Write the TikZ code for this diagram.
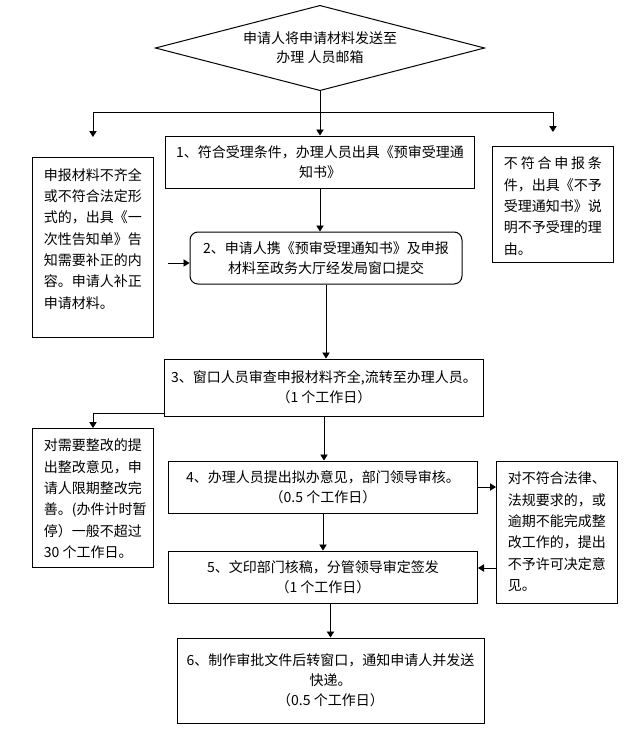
\documentclass[tikz,border=0pt]{standalone}
\usepackage{fontspec}
\setmainfont{Noto Sans CJK SC}
\usepackage{tikz}
\usetikzlibrary{shapes, arrows.meta, positioning, calc}
\newcommand{\sidetext}[2]{\parbox[c][#1][t]{7em}{#2}}

\begin{document}
\begin{tikzpicture}[x=0.75pt, y=-0.75pt,
  flow/.style={draw, line width=0.75pt, align=center, inner sep=2pt, minimum width=231.75pt, minimum height=39pt, font=\fontsize{10.5pt}{15pt}\selectfont},
  side/.style={draw, line width=0.75pt, anchor=north west, inner xsep=8.6pt, inner ysep=8pt, font=\fontsize{10.5pt}{16pt}\selectfont},
  arr/.style={-{Triangle[length=4.5pt, width=5.5pt]}, line width=0.6pt}]
  \useasboundingbox (0,0) rectangle (642,743);

  % Application
  \node[diamond, draw, line width=0.75pt, aspect=3.8, inner sep=0pt, minimum width=247pt, minimum height=64pt, align=center, font=\fontsize{10.5pt}{14pt}\selectfont] (appl) at (320,48) {申请人将申请材料发送至\\办理 人员邮箱};

  % Acceptance
  \node[flow] (accept) at (320,162) {1、符合受理条件，办理人员出具《预审受理通\\知书》};
  \node[flow, rounded corners=6pt, minimum width=204pt] (submit) at (326,258) {2、申请人携《预审受理通知书》及申报\\材料至政务大厅经发局窗口提交};
  \node[side] (lack) at (32,157) {\sidetext{119pt}{申报材料不齐全\\或不符合法定形\\式的，出具《一\\次性告知单》告\\知需要补正的内\\容。申请人补正\\申请材料。}};
  \node[side] (reject) at (492,146) {\sidetext{71pt}{\makebox[7em][s]{不\hfill 符\hfill 合\hfill 申\hfill 报\hfill 条}\\件，出具《不予\\受理通知书》说\\明不予受理的理\\由。}};

  % Review
  \node[flow, minimum width=239.25pt, minimum height=42.75pt] (check) at (324,387.5) {3、窗口人员审查申报材料齐全,流转至办理人员。\\（1 个工作日）};
  \node[flow] (review) at (323,487) {4、办理人员提出拟办意见，部门领导审核。\\（0.5 个工作日）};
  \node[flow] (sign) at (323,577) {5、文印部门核稿，分管领导审定签发\\（1 个工作日）};
  \node[flow, minimum width=230.25pt, minimum height=63.75pt] (deliver) at (330.5,680.5) {6、制作审批文件后转窗口，通知申请人并发送\\快递。\\（0.5 个工作日）};
  \node[side] (rectify) at (32,428) {\sidetext{88.25pt}{对需要整改的提\\出整改意见，申\\请人限期整改完\\善。(办件计时暂\\停）一般不超过\\30 个工作日。}};
  \node[side] (deny) at (496,461) {\sidetext{90.5pt}{对不符合法律、\\法规要求的，或\\逾期不能完成整\\改工作的，提出\\不予许可决定意\\见。}};

  % Connectors
  \coordinate (split) at (320,112);
  \coordinate (lackin) at ([yshift=15pt]lack.north);
  \coordinate (rejin) at ([yshift=10.5pt]reject.north);
  \draw[arr] (appl.south) -- (accept.north);
  \draw[arr] (split) -| (lackin);
  \draw[arr] (split) -| (rejin);
  \draw[arr] (accept.south) -- (accept.south |- submit.north);
  \coordinate (backin) at (168,263);
  \draw[arr] (backin) -- (backin -| submit.west);
  \draw[arr] (submit.south) -- (submit.south |- check.north);
  \coordinate (chkout) at ([yshift=2.25pt]check.south west);
  \draw[arr] (chkout) -| (rectify.north);
  \draw[arr] (check.south) -- (check.south |- review.north);
  \draw[arr] (review.south) -- (review.south |- sign.north);
  \draw[arr] (review.east) -- (review.east -| deny.west);
  \coordinate (signin) at ([yshift=6.75pt]sign.east);
  \draw[arr] (signin -| deny.west) -- (signin);
  \draw[arr] (deliver.north |- sign.south) -- (deliver.north);
\end{tikzpicture}
\end{document}
